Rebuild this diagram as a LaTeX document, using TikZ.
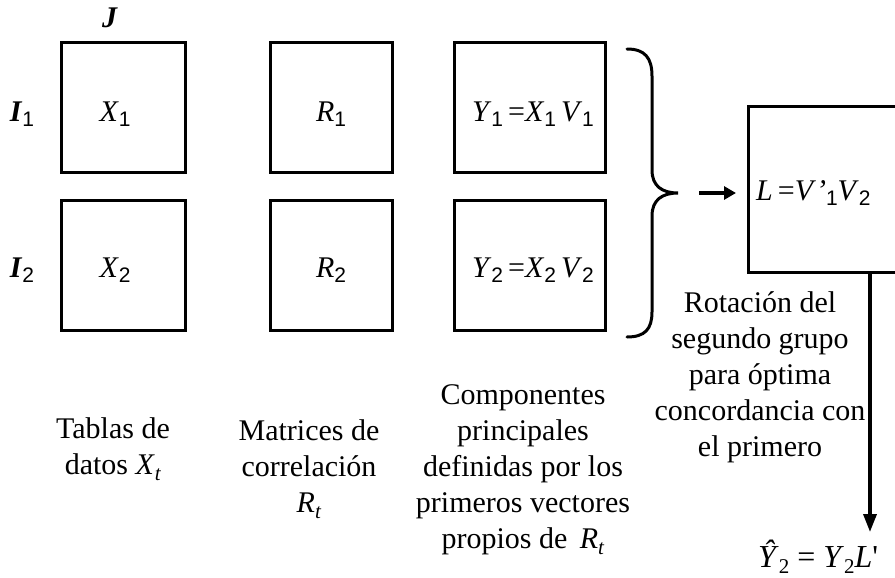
\documentclass[tikz,border=0pt]{standalone}
\usepackage{fontspec}
\setmainfont{Liberation Serif}
\setsansfont{Liberation Sans}
\newfontfamily\rawserif{Liberation Serif}
\usetikzlibrary{arrows.meta}
\newcommand\ssub[1]{\raisebox{-0.4ex}{\sffamily\fontsize{21}{21}\selectfont #1}}
\newcommand\tsub[1]{\raisebox{-0.4ex}{\fontsize{21}{21}\selectfont #1}}
\begin{document}
\begin{tikzpicture}[x=1pt,y=-1pt,
  box/.style={draw, line width=3pt, inner sep=0pt, minimum height=130pt},
  lbl/.style={align=center, inner sep=0pt, font=\fontsize{30}{36}\selectfont},
  side/.style={inner sep=0pt, font=\fontsize{30}{36}\selectfont},
  conn/.style={line width=3.5pt}]
\useasboundingbox (0,0) rectangle (895,578);
% boxes
\node[box, minimum width=124pt] (X1) at (123,107.5) {};
\node[box, minimum width=124pt] (X2) at (123,265) {};
\node[box, minimum width=122pt] (R1) at (331,107.5) {};
\node[box, minimum width=122pt] (R2) at (331,265) {};
\node[box, minimum width=151pt] (Y1) at (530,107.5) {};
\node[box, minimum width=151pt] (Y2) at (530,265) {};
\node[box, minimum width=156pt, minimum height=165pt] (L) at (826,189.5) {};
% box labels
\node[side] (tX1) at (115,114) {\textit{X}\ssub{1}};
\node[side] (tX2) at (115,270) {\textit{X}\ssub{2}};
\node[side] (tR1) at (331,114) {\textit{R}\ssub{1}};
\node[side] (tR2) at (331,270) {\textit{R}\ssub{2}};
\node[side] (tY1) at (533,114) {\textit{Y}\ssub{1}\,=\textit{X}\ssub{1}\,\textit{V}\ssub{1}};
\node[side] (tY2) at (533,270) {\textit{Y}\ssub{2}\,=\textit{X}\ssub{2}\,\textit{V}\ssub{2}};
\node[side, anchor=west] (tL) at (756,193) {\textit{L}\,=\textit{V}\textit{'}\ssub{1}\textit{V}\ssub{2}};
% side labels
\node[side] (J) at (110,18) {\textbf{\textit{J}}};
\node[side] (I1) at (22,114) {\textbf{\textit{I}}\ssub{1}};
\node[side] (I2) at (22,270) {\textbf{\textit{I}}\ssub{2}};
% bottom labels
\node[lbl] (c1) at (113,449) {Tablas de\\datos \textit{X}\tsub{\textit{t}}};
\node[lbl] (c2) at (309,469) {Matrices de\\correlación\\\textit{R}\tsub{\textit{t}}};
\node[lbl] (c3) at (523,470) {Componentes\\principales\\definidas por los\\primeros vectores\\propios de \,\textit{R}\tsub{\textit{t}}};
\node[lbl] (c4) at (760,377) {Rotación del\\segundo grupo\\para óptima\\concordancia con\\el primero};
\node[side, anchor=west, font=\fontsize{32}{36}\selectfont] (Yhat) at (758,557) {\textit{\^{Y}}\tsub{2} = \textit{Y}\tsub{2}\textit{L}{\rawserif'}};
% brace
\coordinate (tip) at (678,193);
\draw[line width=3pt, line cap=round] (627,49) .. controls (645,49) and (652,58) .. (652,76) -- (652,170)
  .. controls (652,186) and (662,193) .. (tip)
  .. controls (662,193) and (652,200) .. (652,216) -- (652,312)
  .. controls (652,329) and (645,337) .. (627,337);
% arrows
\coordinate (a0) at (699,193);
\coordinate (a1) at (736,193);
\draw[line width=4pt, -{Triangle[width=13pt,length=12pt]}] (a0) -- (a1);
\coordinate (vx) at (870,0);
\coordinate (vend) at (870,532);
\draw[conn, -{Triangle[width=13pt,length=18pt]}] (L.south -| vx) -- (vend);
\end{tikzpicture}
\end{document}
